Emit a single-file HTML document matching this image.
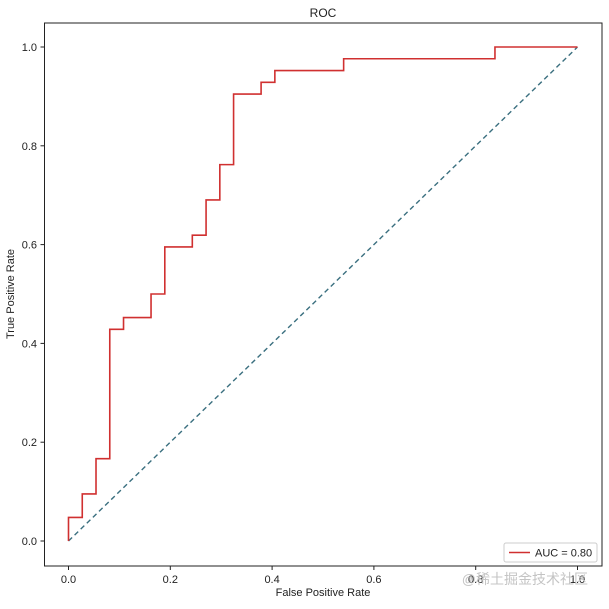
<!DOCTYPE html>
<html><head><meta charset="utf-8"><style>
body{margin:0;background:#fff;font-family:"Liberation Sans","Noto Sans CJK SC",sans-serif}
svg text{font-family:"Liberation Sans","Noto Sans CJK SC",sans-serif;fill:#222}
</style></head><body>
<svg id="chart" width="609" height="604">
<rect x="0" y="0" width="609" height="604" fill="#fff"/>
<text x="323" y="17" font-size="12" text-anchor="middle">ROC</text>
<rect x="44.5" y="23" width="557.5" height="543" fill="none" stroke="#222" stroke-width="1"/>
<g id="ticks"></g>
<text x="323" y="596" font-size="11" text-anchor="middle">False Positive Rate</text>
<text x="14" y="294" font-size="11" text-anchor="middle" transform="rotate(-90 14 294)">True Positive Rate</text>
<line x1="68.5" y1="541" x2="577.5" y2="47" stroke="#3a6f7f" stroke-width="1.4" stroke-dasharray="5,3.5"/>
<path id="roc" fill="none" stroke="#d03030" stroke-width="1.6"/>
<g>
<rect x="504" y="543" width="93" height="19" rx="2" fill="#fff" stroke="#ccc"/>
<line x1="509" y1="552.5" x2="530" y2="552.5" stroke="#d03030" stroke-width="1.6"/>
<text x="535" y="556.5" font-size="11">AUC = 0.80</text>
</g>
<text x="588" y="584" font-size="14" text-anchor="end" fill="#bbb" style="fill:#c4c4c4">@稀土掘金技术社区</text>
</svg>
<script>
const fprSteps=[0,0,1,1,2,2,3,3,4,4,6,6,7,7,9,9,10,10,11,11,12,12,14,14,15,15,20,20,31,31,37];
const tprSteps=[0,2,2,4,4,7,7,18,18,19,19,21,21,25,25,26,26,29,29,32,32,38,38,39,39,40,40,41,41,42,42];
const xTicks=[0,0.2,0.4,0.6,0.8,1.0];
const yTicks=[0,0.2,0.4,0.6,0.8,1.0];
const X=v=>68.5+v*509, Y=v=>541-v*494;
let d='';
fprSteps.forEach((f,i)=>{d+=(i?'L':'M')+X(f/37).toFixed(2)+','+Y(tprSteps[i]/42).toFixed(2);});
document.getElementById('roc').setAttribute('d',d);
const g=document.getElementById('ticks');
const ns='http://www.w3.org/2000/svg';
xTicks.forEach(t=>{
 const l=document.createElementNS(ns,'line');
 l.setAttribute('x1',X(t));l.setAttribute('x2',X(t));l.setAttribute('y1',566);l.setAttribute('y2',570);l.setAttribute('stroke','#222');
 
 
 g.appendChild(l);
 const tx=document.createElementNS(ns,'text');
 tx.setAttribute('x',X(t));tx.setAttribute('y',583);tx.setAttribute('font-size','11');tx.setAttribute('text-anchor','middle');
 tx.textContent=t.toFixed(1);
 
 
 g.appendChild(tx);
});
yTicks.forEach(t=>{
 const l=document.createElementNS(ns,'line');
 l.setAttribute('x1',40.5);l.setAttribute('x2',44.5);l.setAttribute('y1',Y(t));l.setAttribute('y2',Y(t));l.setAttribute('stroke','#222');
 
 
 g.appendChild(l);
 const tx=document.createElementNS(ns,'text');
 tx.setAttribute('x',37);tx.setAttribute('y',Y(t)+4);tx.setAttribute('font-size','11');tx.setAttribute('text-anchor','end');
 tx.textContent=t.toFixed(1);
 
 
 g.appendChild(tx);
});
</script>
</body></html>
